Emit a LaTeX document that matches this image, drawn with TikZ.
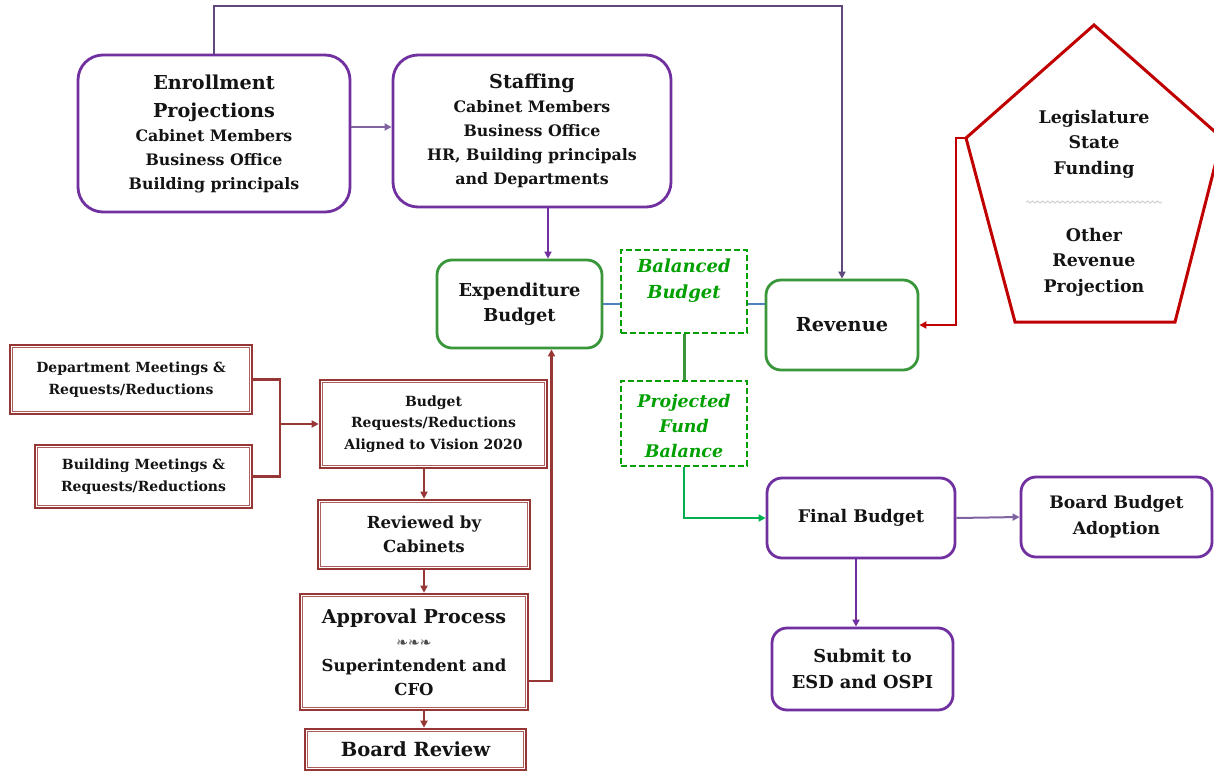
\documentclass[tikz,border=0pt]{standalone}
\usepackage{fontspec}
\setmainfont{DejaVu Serif}
\newfontfamily\symfont{DejaVu Sans}
\usetikzlibrary{arrows.meta,decorations.pathmorphing,calc}
\definecolor{pcol}{RGB}{112,48,160}
\definecolor{pdark}{RGB}{95,73,122}
\definecolor{plight}{RGB}{128,100,162}
\definecolor{gcol}{RGB}{58,150,58}
\definecolor{gdash}{RGB}{0,160,0}
\definecolor{garr}{RGB}{0,176,80}
\definecolor{bcol}{RGB}{79,129,189}
\definecolor{rcol}{RGB}{150,55,53}
\definecolor{pentred}{RGB}{192,0,0}
\definecolor{txt}{RGB}{20,20,20}
\newcommand{\bodyf}{\fontsize{15.8}{24}\selectfont}
\newcommand{\titlef}{\fontsize{19.2}{24}\selectfont}
\newcommand{\smallf}{\fontsize{14}{21.5}\selectfont}
\tikzset{
  pbox/.style={draw=pcol, line width=2.8pt, rounded corners=15pt, fill=white, align=center, inner sep=0pt, text=txt, font=\bodyf\bfseries},
  gbox/.style={draw=gcol, line width=2.8pt, rounded corners=15pt, fill=white, align=center, inner sep=0pt, text=txt, font=\bodyf\bfseries},
  dbox/.style={draw=gdash, line width=2pt, dashed, dash pattern=on 6pt off 3pt, fill=white, align=center, inner sep=0pt},
  gtext/.style={text=gdash, font=\fontsize{18}{26}\selectfont\bfseries\itshape, align=center, inner sep=0pt},
  rbox/.style={draw=rcol, line width=2.6pt, fill=white, align=center, inner sep=0pt, text=txt, font=\smallf\bfseries},
  rinner/.style={draw=rcol!80, line width=0.8pt},
  conn/.style={line width=2pt, -{Triangle[length=7pt,width=7pt]}},
  plain/.style={line width=2pt},
  penttext/.style={align=center, text=txt, font=\fontsize{17.4}{25.5}\selectfont\bfseries, inner sep=0pt},
}
\begin{document}
\begin{tikzpicture}[x=1pt,y=-1pt]
\useasboundingbox (0,0) rectangle (1214,772);
\clip (0,0) rectangle (1214,772);
\fill[white] (0,0) rectangle (1214,772);

% top purple boxes
\node[pbox, rounded corners=25pt, minimum width=272pt, minimum height=157pt] (enr) at (214,133.5)
  {\titlef Enrollment\\[4pt]\titlef Projections\\Cabinet Members\\Business Office\\Building principals};
\node[pbox, rounded corners=25pt, minimum width=278pt, minimum height=152pt] (stf) at (532,131)
  {\titlef Staffing\\Cabinet Members\\Business Office\\HR, Building principals\\and Departments};

% green boxes
\node[gbox, minimum width=165pt, minimum height=88pt, font=\fontsize{17.8}{25}\selectfont\bfseries] (exp) at (519.5,304) {Expenditure\\Budget};
\node[gbox, minimum width=152pt, minimum height=90pt, font=\fontsize{19.3}{24}\selectfont\bfseries] (rev) at (842,325) {Revenue};
\node[dbox, minimum width=126pt, minimum height=83pt] (bal) at (684,291.5) {};
\node[gtext] (balt) at (684,281) {Balanced\\Budget};
\node[dbox, minimum width=126pt, minimum height=85pt] (proj) at (684,423.5) {};
\node[gtext, font=\fontsize{17.4}{25}\selectfont\bfseries\itshape] (projt) at (684,426) {Projected\\Fund\\Balance};

% bottom right purple boxes
\node[pbox, minimum width=188pt, minimum height=80pt, font=\fontsize{17.4}{24}\selectfont\bfseries] (fin) at (861,518) {Final Budget};
\node[pbox, minimum width=191pt, minimum height=80pt, font=\fontsize{17.2}{26}\selectfont\bfseries] (bba) at (1116.5,517) {Board Budget\\Adoption};
\node[pbox, minimum width=181pt, minimum height=82pt, font=\fontsize{17.8}{26}\selectfont\bfseries] (sub) at (862.5,669) {Submit to\\ESD and OSPI};

% pentagon
\coordinate (pa) at (1094,25);
\coordinate (pr) at (1222,138);
\coordinate (pbr) at (1175,322);
\coordinate (pbl) at (1015,322);
\coordinate (pl) at (966,138);
\draw[draw=pentred, line width=3pt, line join=miter, fill=white] (pa) -- (pr) -- (pbr) -- (pbl) -- (pl) -- cycle;
\node[penttext] (leg) at (1094,144) {Legislature\\State\\Funding};
\node[penttext] (oth) at (1094,262) {Other\\Revenue\\Projection};
\draw[black!18, line width=1pt, decorate, decoration={snake, amplitude=1pt, segment length=5pt}] (1026,202) -- (1162,202);

% left red boxes
\node[rbox, minimum width=242pt, minimum height=69pt] (dept) at (131,379.5) {Department Meetings \&\\Requests/Reductions};
\node[rbox, minimum width=217pt, minimum height=63pt] (bldg) at (143.5,476.5) {Building Meetings \&\\Requests/Reductions};
\node[rbox, minimum width=227pt, minimum height=88pt] (breq) at (433.5,424) {Budget\\Requests/Reductions\\Aligned to Vision 2020};
\node[rbox, minimum width=212pt, minimum height=69pt, font=\fontsize{16.6}{24}\selectfont\bfseries] (revd) at (424,534.5) {Reviewed by\\Cabinets};
\node[rbox, minimum width=228pt, minimum height=116pt, font=\fontsize{16.5}{24}\selectfont\bfseries] (appr) at (414,652)
  {{\fontsize{19.1}{24}\selectfont Approval Process}\\{\symfont\fontsize{14}{24}\selectfont\color{black!70}❧❧❧}\\Superintendent and\\CFO};
\node[rbox, minimum width=221pt, minimum height=41pt, font=\fontsize{19.5}{24}\selectfont\bfseries] (brd) at (415.5,749.5) {Board Review};
\foreach \n in {dept,bldg,breq,revd,appr,brd}
  \draw[rinner] ([shift={(4pt,-4pt)}]\n.north west) rectangle ([shift={(-4pt,4pt)}]\n.south east);

% connectors top
\coordinate (topc) at (842,6);
\draw[conn, pdark] (enr.north) |- (topc) -- (rev.north);
\draw[conn, plight] (enr.east |- 0,127) -- (stf.west |- 0,127);
\draw[conn, pcol] ([xshift=16pt]stf.south) -- ([xshift=16pt]stf.south |- exp.north);

% blue links
\draw[plain, bcol] (exp.east) -- (exp.east -| bal.west);
\draw[plain, bcol] (bal.east |- exp.east) -- (exp.east -| rev.west);

% green
\draw[line width=3pt, gcol] (bal.south) -- (proj.north);
\draw[conn, garr] (proj.south) |- (fin.west);

% final connectors
\draw[conn, plight] (fin.east) -- (bba.west);
\draw[conn, pcol, line width=2.6pt] ([xshift=-5pt]fin.south) -- ([xshift=-5pt]fin.south |- sub.north);

% pentagon to revenue
\coordinate (pk) at (956,138);
\draw[conn, pentred, line width=2.6pt] (pl) -- (pk) |- (rev.east);

% red connectors left
\coordinate (jn) at (280,424);
\draw[plain, rcol, line width=2.6pt] (dept.east) -| (jn) |- (bldg.east);
\draw[conn, rcol, line width=2.6pt] (jn) -- (breq.west);
\draw[conn, rcol, line width=2.6pt] (breq.south -| revd.north) -- (revd.north);
\draw[conn, rcol, line width=2.6pt] (revd.south) -- (revd.south |- appr.north);
\draw[conn, rcol, line width=2.6pt] (revd.south |- appr.south) -- (revd.south |- brd.north);
\draw[conn, rcol, line width=2.6pt] ([yshift=-29pt]appr.east) -| ([xshift=32pt]exp.south);
\end{tikzpicture}
\end{document}
